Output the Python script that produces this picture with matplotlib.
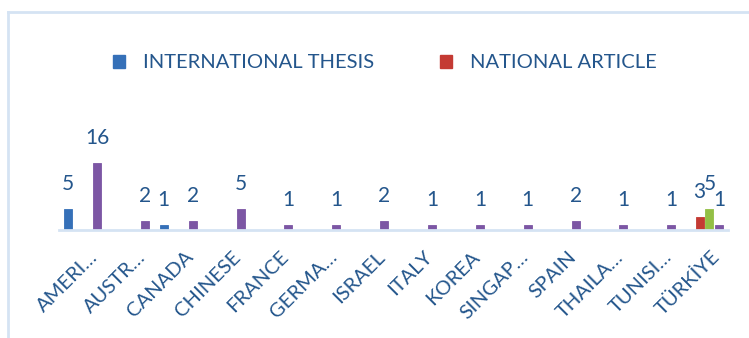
import matplotlib
matplotlib.use("Agg")
import matplotlib.pyplot as plt
import matplotlib.transforms as mtransforms
from matplotlib.lines import Line2D
from matplotlib.patches import Patch
import numpy as np

countries = ["AMERI…", "AUSTR…", "CANADA", "CHINESE", "FRANCE", "GERMA…",
             "ISRAEL", "ITALY", "KOREA", "SINGAP…", "SPAIN", "THAILA…",
             "TUNISI…", "TÜRKİYE"]
international_thesis = [5, 0, 1, 0, 0, 0, 0, 0, 0, 0, 0, 0, 0, 0]
national_article = [0, 0, 0, 0, 0, 0, 0, 0, 0, 0, 0, 0, 0, 3]
national_thesis = [0, 0, 0, 0, 0, 0, 0, 0, 0, 0, 0, 0, 0, 5]
international_article = [16, 2, 2, 5, 1, 1, 2, 1, 1, 1, 2, 1, 1, 1]

series = [
    ("INTERNATIONAL THESIS", international_thesis, "#3570B8"),
    ("NATIONAL ARTICLE", national_article, "#C43A33"),
    ("NATIONAL THESIS", national_thesis, "#93BF45"),
    ("INTERNATIONAL ARTICLE", international_article, "#7C56A4"),
]

TEXT = "#24568C"
FONT = ["Lato", "DejaVu Sans"]
plt.rcParams["font.family"] = FONT

W, H = 749, 338
fig = plt.figure(figsize=(W / 100, H / 100), dpi=100)

# plot area in pixel terms
left_px, right_px = 58.6, 728.5
base_px, top_px = 229.5, 154.5
ax = fig.add_axes([left_px / W, 1 - base_px / H,
                   (right_px - left_px) / W, (base_px - top_px) / H])

x = np.arange(len(countries))
slot = 0.203
width = 0.167
for i, (name, vals, color) in enumerate(series):
    pos = x + (i - 1.5) * slot
    bars = ax.bar(pos, vals, width=width, color=color, label=name,
                  edgecolor=color, linewidth=0.6)
    for rect, v in zip(bars, vals):
        if v > 0:
            ax.annotate(str(v), (rect.get_x() + rect.get_width() / 2, v),
                        xytext=(0, 18), textcoords="offset points",
                        ha="center", va="center", fontsize=15, color=TEXT)

ax.set_xlim(-0.5, len(countries) - 0.5)
ax.set_ylim(0, 18)
ax.set_yticks([])
for side in ("left", "right", "top"):
    ax.spines[side].set_visible(False)
ax.spines["bottom"].set_color("#D5E3F3")
ax.spines["bottom"].set_linewidth(2)
ax.set_xticks(x)
ax.set_xticklabels(countries, rotation=45, ha="right", va="baseline",
                   rotation_mode="anchor", fontsize=14.5, color=TEXT)
ax.tick_params(axis="x", length=0, pad=20.5)
shift = mtransforms.ScaledTranslation(0.16, 0, fig.dpi_scale_trans)
for lbl in ax.get_xticklabels():
    lbl.set_transform(lbl.get_transform() + shift)
ax.set_facecolor("none")

# chart frame
frame_kw = dict(color="#D5E3F3", linewidth=2, transform=fig.transFigure)
fig.add_artist(Line2D([8 / W, 8 / W], [1 - 12 / H, 0], **frame_kw))
fig.add_artist(Line2D([8 / W, 1], [1 - 12 / H, 1 - 12 / H], **frame_kw))

handles = [Patch(facecolor=series[0][2], edgecolor=series[0][2]),
           Patch(facecolor=series[1][2], edgecolor=series[1][2])]
fig.legend(handles, [series[0][0], series[1][0]], ncol=2, frameon=False,
           loc="center left", bbox_to_anchor=(113 / W, 1 - 63 / H),
           borderpad=0, borderaxespad=0,
           handlelength=0.6, handleheight=0.6, handletextpad=0.9,
           columnspacing=3.25, fontsize=14.5, labelcolor=TEXT)

fig.savefig("out.png", dpi=100)
